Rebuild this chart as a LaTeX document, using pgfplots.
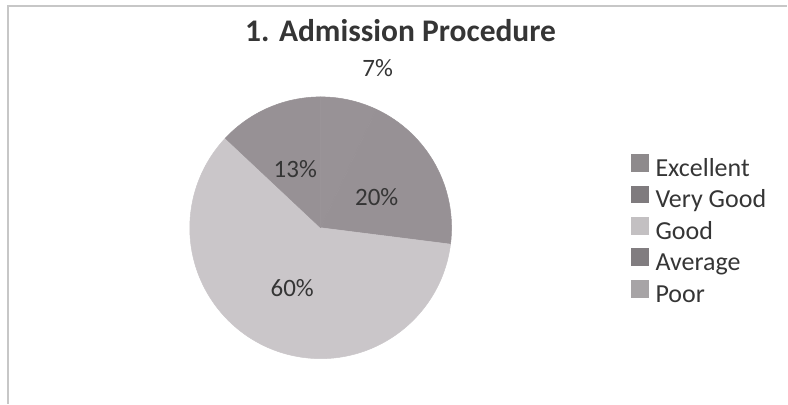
\documentclass[border=0pt]{standalone}
\usepackage{pgfplots}
\pgfplotsset{compat=1.18}
\usepackage{pgfplotstable}
\usepackage{fontspec}
\setmainfont{Carlito}

% slice colours (the scan shows the three dark slices as one tone)
\definecolor{cExc}{HTML}{989296}
\definecolor{cVG}{HTML}{979195}
\definecolor{cGood}{HTML}{CAC6C9}
\definecolor{cAvg}{HTML}{979195}
\definecolor{cPoor}{HTML}{ABA7AA}
% legend swatches as they appear in the scan
\definecolor{lExc}{HTML}{8E8A8C}
\definecolor{lVG}{HTML}{7F7B7E}
\definecolor{lGood}{HTML}{C3C0C2}
\definecolor{lAvg}{HTML}{817D80}
\definecolor{lPoor}{HTML}{A7A4A6}
\definecolor{txt}{HTML}{353535}

% share of answers, slices run clockwise from 12 o'clock
% labr = radius of the percent label, labshift = small angle nudge
\pgfplotstableread[col sep=comma]{
name,value,colour,labr,labshift
Excellent,7,cExc,170,-7
Very Good,20,cVG,64,0
Good,60,cGood,67,0
Average,13,cAvg,64,0
Poor,0,cPoor,64,0
}\ratings

\begin{document}
\begin{tikzpicture}
\begin{axis}[
  x=1pt, y=1pt,
  xmin=0, xmax=788, ymin=0, ymax=404,
  enlargelimits=false,
  scale only axis,
  hide axis,
  clip=false,
  legend image code/.code={\fill[#1, draw=none] (0pt,-1pt) rectangle (18pt,17pt);},
  legend cell align=left,
  legend style={
    draw=none, fill=none,
    at={(axis cs:631,250)}, anchor=north west,
    inner sep=0pt, row sep=3pt,
    nodes={inner sep=0pt, text height=17pt, text depth=6pt,
      font=\fontsize{26}{30}\selectfont, text=txt},
    /tikz/every odd column/.style={column sep=7pt},
  },
]
  \path (axis cs:0,0) rectangle (axis cs:788,404);
  \draw[black!22, line width=1.6pt] (axis cs:8,0) |- (axis cs:788,398);

  \node[text=txt, font=\bfseries\fontsize{31.5}{36}\selectfont]
    at (axis cs:401,373) {1. Admission Procedure};

  \pgfplotsextra{
    \gdef\acc{90}
    \foreach \i in {0,...,4}{
      \pgfplotstablegetelem{\i}{value}\of\ratings \let\sval\pgfplotsretval
      \pgfplotstablegetelem{\i}{colour}\of\ratings \let\scol\pgfplotsretval
      \pgfplotstablegetelem{\i}{labr}\of\ratings \let\slr\pgfplotsretval
      \pgfplotstablegetelem{\i}{labshift}\of\ratings \let\sls\pgfplotsretval
      \pgfmathsetmacro\aend{\acc-3.6*\sval}
      \pgfmathsetmacro\amid{(\acc+\aend)/2+\sls}
      \ifdim\sval pt>0pt
        \filldraw[fill=\scol, draw=\scol, line width=0.5pt, line join=round]
          (axis cs:321,176) -- ++(\acc:131pt)
          arc[start angle=\acc, end angle=\aend, radius=131pt] -- cycle;
      \fi
      \xdef\acc{\aend}
    }
    % percent labels on top of all slices
    \gdef\acc{90}
    \foreach \i in {0,...,4}{
      \pgfplotstablegetelem{\i}{value}\of\ratings \let\sval\pgfplotsretval
      \pgfplotstablegetelem{\i}{labr}\of\ratings \let\slr\pgfplotsretval
      \pgfplotstablegetelem{\i}{labshift}\of\ratings \let\sls\pgfplotsretval
      \pgfmathsetmacro\aend{\acc-3.6*\sval}
      \pgfmathsetmacro\amid{(\acc+\aend)/2+\sls}
      \ifdim\sval pt>0pt
        \path (axis cs:321,176) ++(\amid:\slr pt)
          node[text=txt, font=\fontsize{25}{30}\selectfont] {\sval\%};
      \fi
      \xdef\acc{\aend}
    }
  }

  \addlegendimage{fill=lExc}\addlegendentry{Excellent}
  \addlegendimage{fill=lVG}\addlegendentry{Very Good}
  \addlegendimage{fill=lGood}\addlegendentry{Good}
  \addlegendimage{fill=lAvg}\addlegendentry{Average}
  \addlegendimage{fill=lPoor}\addlegendentry{Poor}
\end{axis}
\end{tikzpicture}
\end{document}
